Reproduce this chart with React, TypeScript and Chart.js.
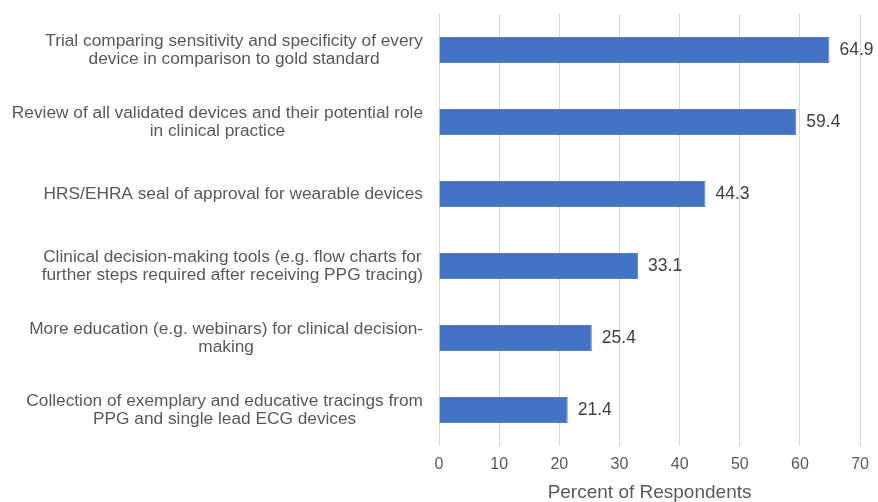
import React, { useEffect, useRef } from "react";
import { Chart, registerables } from "chart.js";

Chart.register(...registerables);

const categories: string[][] = [
  ["Trial comparing sensitivity and specificity of every", "device in comparison to gold standard"],
  ["Review of all validated devices and their potential role", "in clinical practice"],
  ["HRS/EHRA seal of approval for wearable devices"],
  ["Clinical decision-making tools (e.g. flow charts for", "further steps required after receiving PPG tracing)"],
  ["More education (e.g. webinars) for clinical decision-", "making"],
  ["Collection of exemplary and educative tracings from", "PPG and single lead ECG devices"],
];
const values: number[] = [64.9, 59.4, 44.3, 33.1, 25.4, 21.4];
const xTicks: number[] = [0, 10, 20, 30, 40, 50, 60, 70];
const axisTitle = "Percent of Respondents";

const FONT = "'Liberation Sans', Arial, sans-serif";

const labelPlugin = {
  id: "customLabels",
  afterDraw(chart: any) {
    const ctx = chart.ctx;
    const yScale = chart.scales.y;
    const area = chart.chartArea;
    ctx.save();
    ctx.font = `17.3px ${FONT}`;
    ctx.fillStyle = "#595959";
    ctx.textAlign = "center";
    ctx.textBaseline = "middle";
    const lh = 17.5;
    categories.forEach((lines, i) => {
      const cy = yScale.getPixelForValue(i);
      const maxW = Math.max(...lines.map((l) => ctx.measureText(l).width));
      const cx = area.left - 16 - maxW / 2;
      const y0 = cy - ((lines.length - 1) * lh) / 2;
      lines.forEach((l, j) => ctx.fillText(l, cx, y0 + j * lh));
    });
    // data labels
    ctx.font = `17.5px ${FONT}`;
    const meta = chart.getDatasetMeta(0);
    ctx.textAlign = "left";
    ctx.fillStyle = "#404040";
    meta.data.forEach((bar: any, i: number) => {
      ctx.fillText(values[i].toFixed(1), bar.x + 10, bar.y);
    });
    ctx.restore();
  },
};

export default function App() {
  const ref = useRef<HTMLCanvasElement>(null);
  useEffect(() => {
    document.body.style.margin = "0";
    const chart = new Chart(ref.current!, {
      type: "bar",
      data: {
        labels: categories.map((c) => c.join(" ")),
        datasets: [
          {
            data: values,
            backgroundColor: "#4472C4",
            borderColor: "#5580CC",
            borderWidth: 1,
            barPercentage: 0.36,
            categoryPercentage: 1,
          },
        ],
      },
      options: {
        indexAxis: "y",
        animation: false,
        responsive: false,
        maintainAspectRatio: false,
        layout: { padding: { top: 14, right: 15, left: 0, bottom: 0 } },
        plugins: { legend: { display: false }, tooltip: { enabled: false } },
        scales: {
          x: {
            min: 0,
            max: 70,
            afterBuildTicks: (s: any) => {
              s.ticks = xTicks.map((v) => ({ value: v }));
            },
            afterFit: (s: any) => {
              s.height = 56;
            },
            grid: { color: "#d9d9d9", lineWidth: 1, drawTicks: false },
            border: { display: false },
            ticks: {
              color: "#595959",
              font: { size: 16, family: FONT },
              padding: 9,
            },
            title: {
              display: true,
              text: axisTitle,
              color: "#595959",
              font: { size: 19, family: FONT, lineHeight: 1 },
              padding: { top: 0, bottom: 0 },
            },
          },
          y: {
            afterFit: (s: any) => {
              s.width = 439;
            },
            grid: { display: false },
            border: { display: false },
            ticks: { display: false },
          },
        },
      },
      plugins: [labelPlugin],
    });
    return () => chart.destroy();
  }, []);
  return <canvas ref={ref} width={878} height={502} style={{ display: "block" }} />;
}
